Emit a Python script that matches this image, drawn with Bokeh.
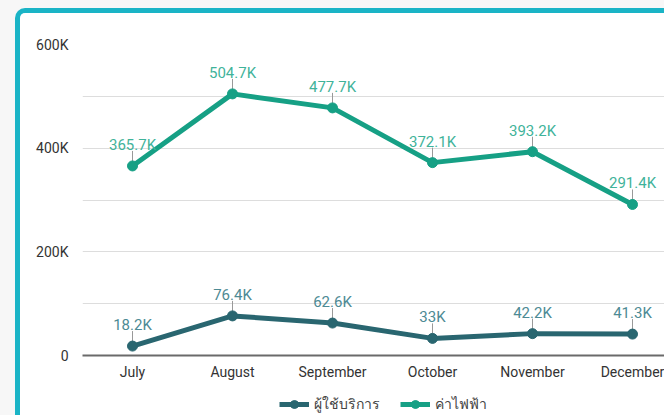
from bokeh.plotting import figure
from bokeh.models import Range1d, FixedTicker, Legend, LegendItem, ColumnDataSource, LabelSet
from bokeh.layouts import column
from bokeh.core.properties import value
from bokeh.embed import file_html
from bokeh.resources import INLINE

# ---- data ----
months = ["July", "August", "September", "October", "November", "December"]
users = [18200, 76400, 62600, 33000, 42200, 41300]            # ผู้ใช้บริการ
electricity = [365700, 504700, 477700, 372100, 393200, 291400]  # ค่าไฟฟ้า
series_names = ["ผู้ใช้บริการ", "ค่าไฟฟ้า"]
y_ticks = [0, 200000, 400000, 600000]
y_tick_labels = ["0", "200K", "400K", "600K"]
y_minor_ticks = [100000, 300000, 500000]


def fmt(v):
    return f"{v / 1000:g}K"


users_color = "#296670"
users_label_color = "#4d8a94"
elec_color = "#16a085"
elec_label_color = "#3fb39a"
border_color = "#1ab4c6"
font = "Roboto"

Y_MAX = 600000
FRAME_H = 311
upp = Y_MAX / FRAME_H  # data units per pixel

xs = list(range(len(months)))

p = figure(width=644, height=373, output_backend="svg", toolbar_location=None,
           x_range=Range1d(-0.5, 5.32), y_range=Range1d(0, Y_MAX),
           min_border_left=62, min_border_right=0, min_border_top=31, min_border_bottom=31)
p.outline_line_color = None
p.background_fill_color = "white"
p.border_fill_color = "white"

# x axis
p.xaxis.ticker = FixedTicker(ticks=xs)
p.xaxis.major_label_overrides = {i: m for i, m in enumerate(months)}
p.xaxis.axis_line_color = "#6a6a6a"
p.xaxis.axis_line_width = 2
p.xaxis.major_tick_line_color = None
p.xaxis.minor_tick_line_color = None
p.xaxis.major_tick_out = 0
p.xaxis.major_label_standoff = 8
p.xaxis.major_label_text_font = font
p.xaxis.major_label_text_font_size = "14px"
p.xaxis.major_label_text_color = "#333333"
p.xgrid.grid_line_color = None

# y axis
p.yaxis.ticker = FixedTicker(ticks=y_ticks, minor_ticks=y_minor_ticks)
p.yaxis.major_label_overrides = {t: l for t, l in zip(y_ticks, y_tick_labels)}
p.yaxis.axis_line_color = None
p.yaxis.major_tick_line_color = None
p.yaxis.minor_tick_line_color = None
p.yaxis.major_tick_out = 0
p.yaxis.minor_tick_out = 0
p.yaxis.major_label_standoff = 14
p.yaxis.major_label_text_font = font
p.yaxis.major_label_text_font_size = "14px"
p.yaxis.major_label_text_color = "#333333"
p.ygrid.grid_line_color = "#dddddd"
p.ygrid.minor_grid_line_color = "#dddddd"

# legend strip (its own small figure below the chart; its view range excludes the data,
# so only the legend shows)
pl = figure(width=644, height=29, output_backend="svg", toolbar_location=None,
            x_axis_type=None, y_axis_type=None, x_range=Range1d(-10, -9), y_range=Range1d(-10, -9),
            min_border=0, min_border_left=0, min_border_right=0, min_border_top=0, min_border_bottom=0)
pl.outline_line_color = None
pl.background_fill_color = "white"
pl.border_fill_color = "white"

legend_items = []
for vals, name, col, lcol in [(users, series_names[0], users_color, users_label_color),
                              (electricity, series_names[1], elec_color, elec_label_color)]:
    src = ColumnDataSource(dict(
        x=xs, y=vals, lab=[fmt(v) for v in vals],
        t0=[v + 4 * upp for v in vals], t1=[v + 15 * upp for v in vals]))
    p.segment(x0="x", y0="t0", x1="x", y1="t1", source=src, line_color="#999999", line_width=1)
    p.line("x", "y", source=src, line_color=col, line_width=5)
    p.scatter("x", "y", source=src, size=10, fill_color=col, line_color=col)
    labels = LabelSet(x="x", y="y", text="lab", source=src, y_offset=21,
                      text_align="center", text_baseline="middle",
                      text_font=value(font), text_font_size=value("15px"), text_color=value(lcol))
    p.add_layout(labels)
    lr_line = pl.line("x", "y", source=src, line_color=col, line_width=5)
    lr_pt = pl.scatter("x", "y", source=src, size=10, fill_color=col, line_color=col)
    legend_items.append(LegendItem(label=name, renderers=[lr_line, lr_pt]))

legend = Legend(items=legend_items, orientation="horizontal", location=(197, 0),
                glyph_width=30, glyph_height=20, label_standoff=5, spacing=20,
                padding=0, margin=0, border_line_color=None, background_fill_alpha=0,
                label_text_font=font, label_text_font_size="14px", label_text_color="#444444")
pl.add_layout(legend, "center")

card = column(p, pl, spacing=0,
              styles={"border-left": f"5px solid {border_color}",
                      "border-top": f"5px solid {border_color}",
                      "border-top-left-radius": "10px",
                      "background-color": "white", "overflow": "hidden"})
outer = column(card, styles={"background-color": "#f7f7f7",
                             "padding-left": "15px", "padding-top": "8px"})

open("out.html", "w").write(file_html(outer, INLINE))
